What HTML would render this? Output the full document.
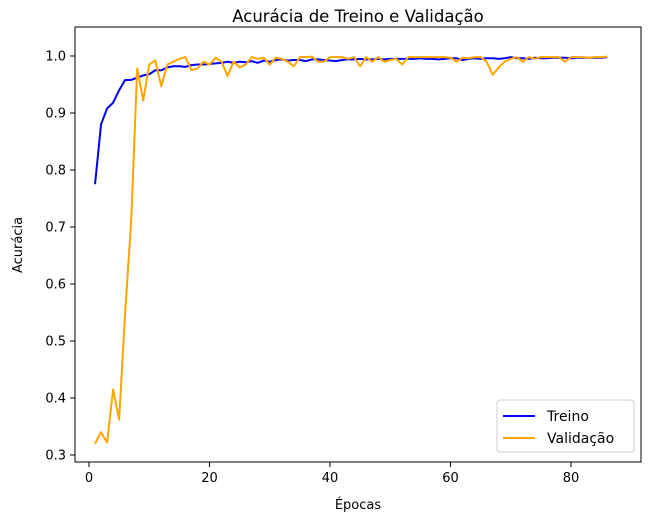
<!DOCTYPE html>
<html><head><meta charset="utf-8"><style>
body{margin:0;background:#fff;font-family:"Liberation Sans","DejaVu Sans",sans-serif}
text{font-family:"DejaVu Sans","Liberation Sans",sans-serif}
</style></head><body>
<svg id="c" width="651" height="524" xmlns="http://www.w3.org/2000/svg">
<rect width="651" height="524" fill="#fff"/>
<text x="358" y="22" font-size="16.5" text-anchor="middle">Acurácia de Treino e Validação</text>
<g id="axes"></g>
<rect x="75" y="27" width="566" height="435" fill="none" stroke="#000" stroke-width="1"/>
<text x="358" y="509" font-size="13" text-anchor="middle">Épocas</text>
<text x="22" y="245" font-size="13" text-anchor="middle" transform="rotate(-90 22 245)">Acurácia</text>
<g>
<rect x="497" y="400" width="137" height="52" rx="3" fill="#fff" stroke="#ccc"/>
<line x1="503" y1="416" x2="535" y2="416" stroke="#0000ff" stroke-width="2"/>
<text x="547" y="421" font-size="14">Treino</text>
<line x1="503" y1="438" x2="535" y2="438" stroke="#ffa500" stroke-width="2"/>
<text x="547" y="443" font-size="14">Validação</text>
</g>
</svg>
<script>
const xTicks=[0,20,40,60,80];
const yTicks=[0.3,0.4,0.5,0.6,0.7,0.8,0.9,1.0];
const train=[0.775,0.88,0.908,0.918,0.94,0.958,0.958,0.962,0.966,0.968,0.975,0.975,0.98,0.982,0.982,0.981,0.984,0.985,0.985,0.986,0.987,0.988,0.99,0.988,0.99,0.989,0.991,0.988,0.992,0.99,0.993,0.994,0.992,0.993,0.993,0.991,0.994,0.994,0.993,0.992,0.991,0.993,0.994,0.994,0.995,0.994,0.994,0.995,0.994,0.995,0.995,0.995,0.995,0.995,0.996,0.995,0.995,0.994,0.995,0.996,0.996,0.993,0.995,0.996,0.995,0.996,0.996,0.995,0.996,0.998,0.996,0.996,0.995,0.997,0.996,0.996,0.997,0.997,0.997,0.996,0.997,0.997,0.997,0.997,0.997,0.998];
const val=[0.32,0.34,0.322,0.415,0.362,0.55,0.71,0.978,0.922,0.985,0.992,0.947,0.985,0.99,0.995,0.998,0.975,0.978,0.99,0.985,0.997,0.99,0.965,0.99,0.98,0.985,0.998,0.995,0.997,0.985,0.997,0.995,0.99,0.982,0.998,0.998,0.999,0.99,0.99,0.998,0.998,0.998,0.995,0.998,0.982,0.998,0.99,0.998,0.99,0.993,0.995,0.985,0.998,0.998,0.998,0.998,0.998,0.998,0.998,0.997,0.99,0.997,0.996,0.998,0.998,0.99,0.967,0.98,0.99,0.995,0.998,0.99,0.998,0.995,0.998,0.998,0.998,0.998,0.99,0.998,0.998,0.998,0.997,0.998,0.998,0.999];
const X=v=>89+v*(571-89)/80;
const Y=v=>455-(v-0.3)*(455-56)/0.7;
const NS='http://www.w3.org/2000/svg';
const ax=document.getElementById('axes');
function mk(t,a){const e=document.createElementNS(NS,t);for(const k in a)e.setAttribute(k,a[k]);return e;}
xTicks.forEach(t=>{
 const l=mk('line',{x1:X(t),x2:X(t),y1:462,y2:467,stroke:'#000'});
 
 
 ax.appendChild(l);
 const tx=mk('text',{x:X(t),y:482,'font-size':13,'text-anchor':'middle'});tx.textContent=t;
 
 
 ax.appendChild(tx);
});
yTicks.forEach(t=>{
 const l=mk('line',{x1:70,x2:75,y1:Y(t),y2:Y(t),stroke:'#000'});
 
 
 ax.appendChild(l);
 const tx=mk('text',{x:66,y:Y(t)+4.5,'font-size':13,'text-anchor':'end'});tx.textContent=t.toFixed(1);
 
 
 ax.appendChild(tx);
});
function line(d,c,name){
 const p=mk('polyline',{points:d.map((v,i)=>X(i+1)+','+Y(v)).join(' '),fill:'none',stroke:c,'stroke-width':2,'stroke-linejoin':'round'});
 
 
 ax.appendChild(p);
}
line(train,'#0000ff','train-line');
line(val,'#ffa500','validation-line');
</script>
</body></html>
